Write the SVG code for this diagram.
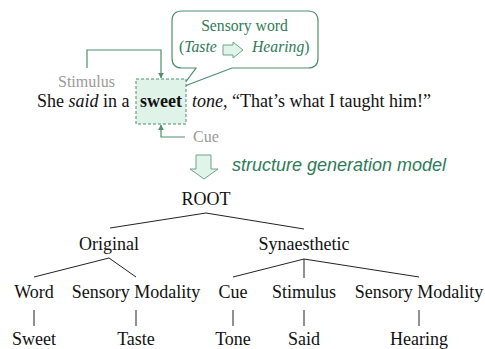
<svg xmlns="http://www.w3.org/2000/svg" width="485" height="349" viewBox="0 0 485 349">
<defs>
<style>
.t{font-family:'Liberation Serif',serif;font-size:18px;fill:#111}
.g{font-family:'Liberation Serif',serif;font-size:16px;fill:#9a9a9a}
.gr{font-family:'Liberation Serif',serif;font-size:15.7px;fill:#2f7a57}
.m{font-family:'Liberation Sans',sans-serif;font-size:18px;font-style:italic;fill:#2f7a57}
.ln{stroke:#222;stroke-width:1;fill:none}
.ar{stroke:#4e8f6d;stroke-width:1.2;fill:none}
.sh{fill:#e0f4e9;stroke:#6aa585;stroke-width:1}
</style>
<marker id="ah" viewBox="0 0 10 10" refX="9" refY="5" markerWidth="5" markerHeight="5" orient="auto">
<path d="M0,0 L10,5 L0,10 z" fill="#4e8f6d"/>
</marker>
</defs>
<rect width="485" height="349" fill="#fff"/>

<g id="bubble">
<path d="M182,11 H308 Q318,11 318,21 V58 Q318,68 308,68 H232 L182,87 L196,68 H182 Q172,68 172,58 V21 Q172,11 182,11 Z" fill="#fff" stroke="#4e8f6d" stroke-width="1.2"/>
<text class="gr" font-family="Liberation Serif, serif" x="244.5" y="31" text-anchor="middle">Sensory word</text>
<text class="gr" font-family="Liberation Serif, serif" x="179" y="52">(<tspan font-style="italic">Taste</tspan></text>
<path class="sh" d="M223,45 H233 V42 L243,50 L233,58 V55 H223 Z" stroke="#4e8f6d"/>
<text class="gr" font-family="Liberation Serif, serif" x="252" y="52"><tspan font-style="italic">Hearing</tspan>)</text>
</g>

<g id="sweet-box">
<rect x="136" y="79" width="50" height="45" fill="#dff3e8" stroke="#4e8f6d" stroke-width="1" stroke-dasharray="3,2"/>
</g>

<g id="sentence">
<text class="t" font-family="Liberation Serif, serif" x="37" y="107">She <tspan font-style="italic">said</tspan> in a</text>
<text class="t" font-family="Liberation Serif, serif" x="140" y="107" font-weight="bold">sweet</text>
<text class="t" font-family="Liberation Serif, serif" x="192" y="107"><tspan font-style="italic">tone</tspan>, “That’s what I taught him!”</text>
</g>

<g id="stimulus-label"><text class="g" font-family="Liberation Serif, serif" x="58" y="87">Stimulus</text></g>
<g id="cue-label"><text class="g" font-family="Liberation Serif, serif" x="193" y="142">Cue</text></g>

<g id="annotation-connectors">
<path class="ar" d="M87,68 V50 H161 V78" marker-end="url(#ah)"/>
<path class="ar" d="M185,137 H161 V125" marker-end="url(#ah)"/>
</g>

<g id="model-arrow">
<path class="sh" d="M196,155 H211 V169 H218 L204,179 L190,169 H196 Z"/>
<text class="m" font-family="Liberation Sans, sans-serif" x="232" y="171">structure generation model</text>
</g>

<g id="tree-connectors">
<path class="ln" d="M110,228 L206,213 L304,229"/>
<path class="ln" d="M34,277 L109,258 L136,277"/>
<path class="ln" d="M233,277 L304,259 L419,277 M304,259 V278"/>
<path class="ln" d="M34,310 V326 M136,310 V326 M233,310 V326 M304,310 V326 M419,310 V326"/>
</g>

<g font-family="Liberation Serif, serif">
<g id="root"><text class="t" font-family="Liberation Serif, serif" x="206" y="205" text-anchor="middle">ROOT</text></g>
<g id="original"><text class="t" font-family="Liberation Serif, serif" x="109" y="250" text-anchor="middle">Original</text></g>
<g id="synaesthetic"><text class="t" font-family="Liberation Serif, serif" x="304" y="250" text-anchor="middle">Synaesthetic</text></g>
<g id="word"><text class="t" font-family="Liberation Serif, serif" x="34" y="298" text-anchor="middle">Word</text></g>
<g id="sensory-modality-1"><text class="t" font-family="Liberation Serif, serif" x="136" y="298" text-anchor="middle">Sensory Modality</text></g>
<g id="cue"><text class="t" font-family="Liberation Serif, serif" x="233" y="298" text-anchor="middle">Cue</text></g>
<g id="stimulus"><text class="t" font-family="Liberation Serif, serif" x="304" y="298" text-anchor="middle">Stimulus</text></g>
<g id="sensory-modality-2"><text class="t" font-family="Liberation Serif, serif" x="419" y="298" text-anchor="middle">Sensory Modality</text></g>
<g id="sweet-leaf"><text class="t" font-family="Liberation Serif, serif" x="34" y="345" text-anchor="middle">Sweet</text></g>
<g id="taste-leaf"><text class="t" font-family="Liberation Serif, serif" x="136" y="345" text-anchor="middle">Taste</text></g>
<g id="tone-leaf"><text class="t" font-family="Liberation Serif, serif" x="233" y="345" text-anchor="middle">Tone</text></g>
<g id="said-leaf"><text class="t" font-family="Liberation Serif, serif" x="304" y="345" text-anchor="middle">Said</text></g>
<g id="hearing-leaf"><text class="t" font-family="Liberation Serif, serif" x="419" y="345" text-anchor="middle">Hearing</text></g>
</g>
</svg>
